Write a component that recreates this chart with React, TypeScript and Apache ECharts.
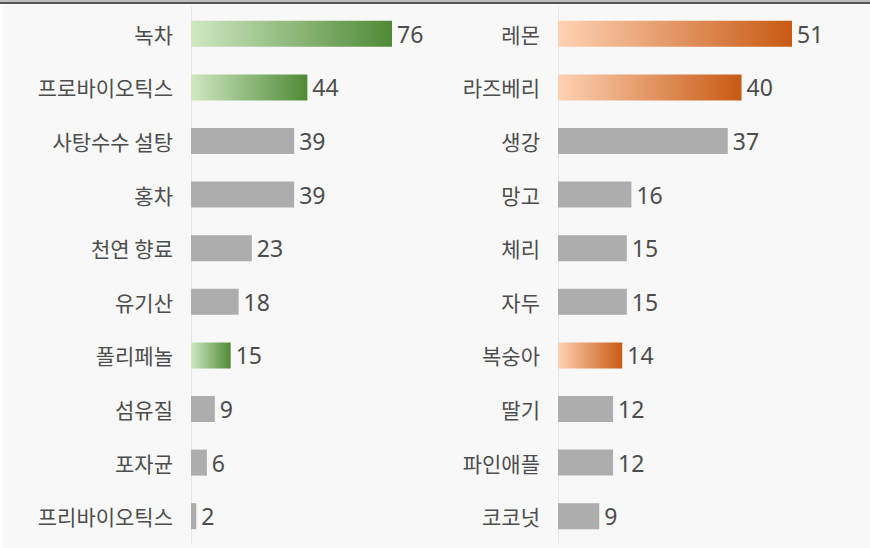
import React, { useEffect, useRef } from "react";
import * as echarts from "echarts";

const leftCategories = ["녹차", "프로바이오틱스", "사탕수수 설탕", "홍차", "천연 향료", "유기산", "폴리페놀", "섬유질", "포자균", "프리바이오틱스"];
const leftValues = [76, 44, 39, 39, 23, 18, 15, 9, 6, 2];
const leftHighlight = ["녹차", "프로바이오틱스", "폴리페놀"];

const rightCategories = ["레몬", "라즈베리", "생강", "망고", "체리", "자두", "복숭아", "딸기", "파인애플", "코코넛"];
const rightValues = [51, 40, 37, 16, 15, 15, 14, 12, 12, 9];
const rightHighlight = ["레몬", "라즈베리", "복숭아"];

const FONT = "'Noto Sans CJK KR', 'Noto Sans', sans-serif";
const NUM_FONT = "'Noto Sans', 'Open Sans', sans-serif";
const GREY = "#adadad";

function grad(from: string, to: string) {
  return new echarts.graphic.LinearGradient(0, 0, 1, 0, [
    { offset: 0, color: from },
    { offset: 1, color: to },
  ]);
}

export default function App() {
  const ref = useRef<HTMLDivElement>(null);
  useEffect(() => {
    if (!ref.current) return;
    const chart = echarts.init(ref.current, null, { renderer: "svg" });
    const catLabel = { color: "#4d4d4d", fontSize: 21, fontFamily: FONT };
    const numLabel = { color: "#4d4d4d", fontSize: 23, fontFamily: NUM_FONT };
    const yAxisCommon = {
      type: "category" as const,
      inverse: true,
      axisTick: { show: false },
      axisLine: { show: true, lineStyle: { color: "#e6e6e6", width: 1 } },
      axisLabel: { ...catLabel, margin: 18 },
    };
    chart.setOption({
      animation: false,
      backgroundColor: "#f8f8f8",
      graphic: [
        { type: "rect", shape: { x: 0, y: 0, width: 870, height: 2 }, style: { fill: "#bdbdbd" } },
        { type: "rect", shape: { x: 0, y: 2, width: 870, height: 2 }, style: { fill: "#555555" } },
        { type: "rect", shape: { x: 0, y: 4, width: 3, height: 544 }, style: { fill: "#fdfdfd" } },
      ],
      grid: [
        { left: 191, top: 7, width: 201, height: 536 },
        { left: 558, top: 7, width: 234, height: 536 },
      ],
      xAxis: [
        { gridIndex: 0, type: "value", min: 0, max: 76, show: false },
        { gridIndex: 1, type: "value", min: 0, max: 51, show: false },
      ],
      yAxis: [
        { ...yAxisCommon, gridIndex: 0, data: leftCategories },
        { ...yAxisCommon, gridIndex: 1, data: rightCategories },
      ],
      series: [
        {
          type: "bar",
          xAxisIndex: 0,
          yAxisIndex: 0,
          barWidth: 26,
          data: leftValues.map((v, i) => ({
            value: v,
            itemStyle: {
              color: leftHighlight.includes(leftCategories[i]) ? grad("#cfe8c2", "#4f8a36") : GREY,
            },
          })),
          label: { show: true, position: "right", distance: 5, ...numLabel },
        },
        {
          type: "bar",
          xAxisIndex: 1,
          yAxisIndex: 1,
          barWidth: 26,
          data: rightValues.map((v, i) => ({
            value: v,
            itemStyle: {
              color: rightHighlight.includes(rightCategories[i]) ? grad("#fed2b4", "#c85a14") : GREY,
            },
          })),
          label: { show: true, position: "right", distance: 5, ...numLabel },
        },
      ],
    });
    return () => chart.dispose();
  }, []);
  return <div ref={ref} style={{ position: "fixed", left: 0, top: 0, width: 870, height: 548 }} />;
}
